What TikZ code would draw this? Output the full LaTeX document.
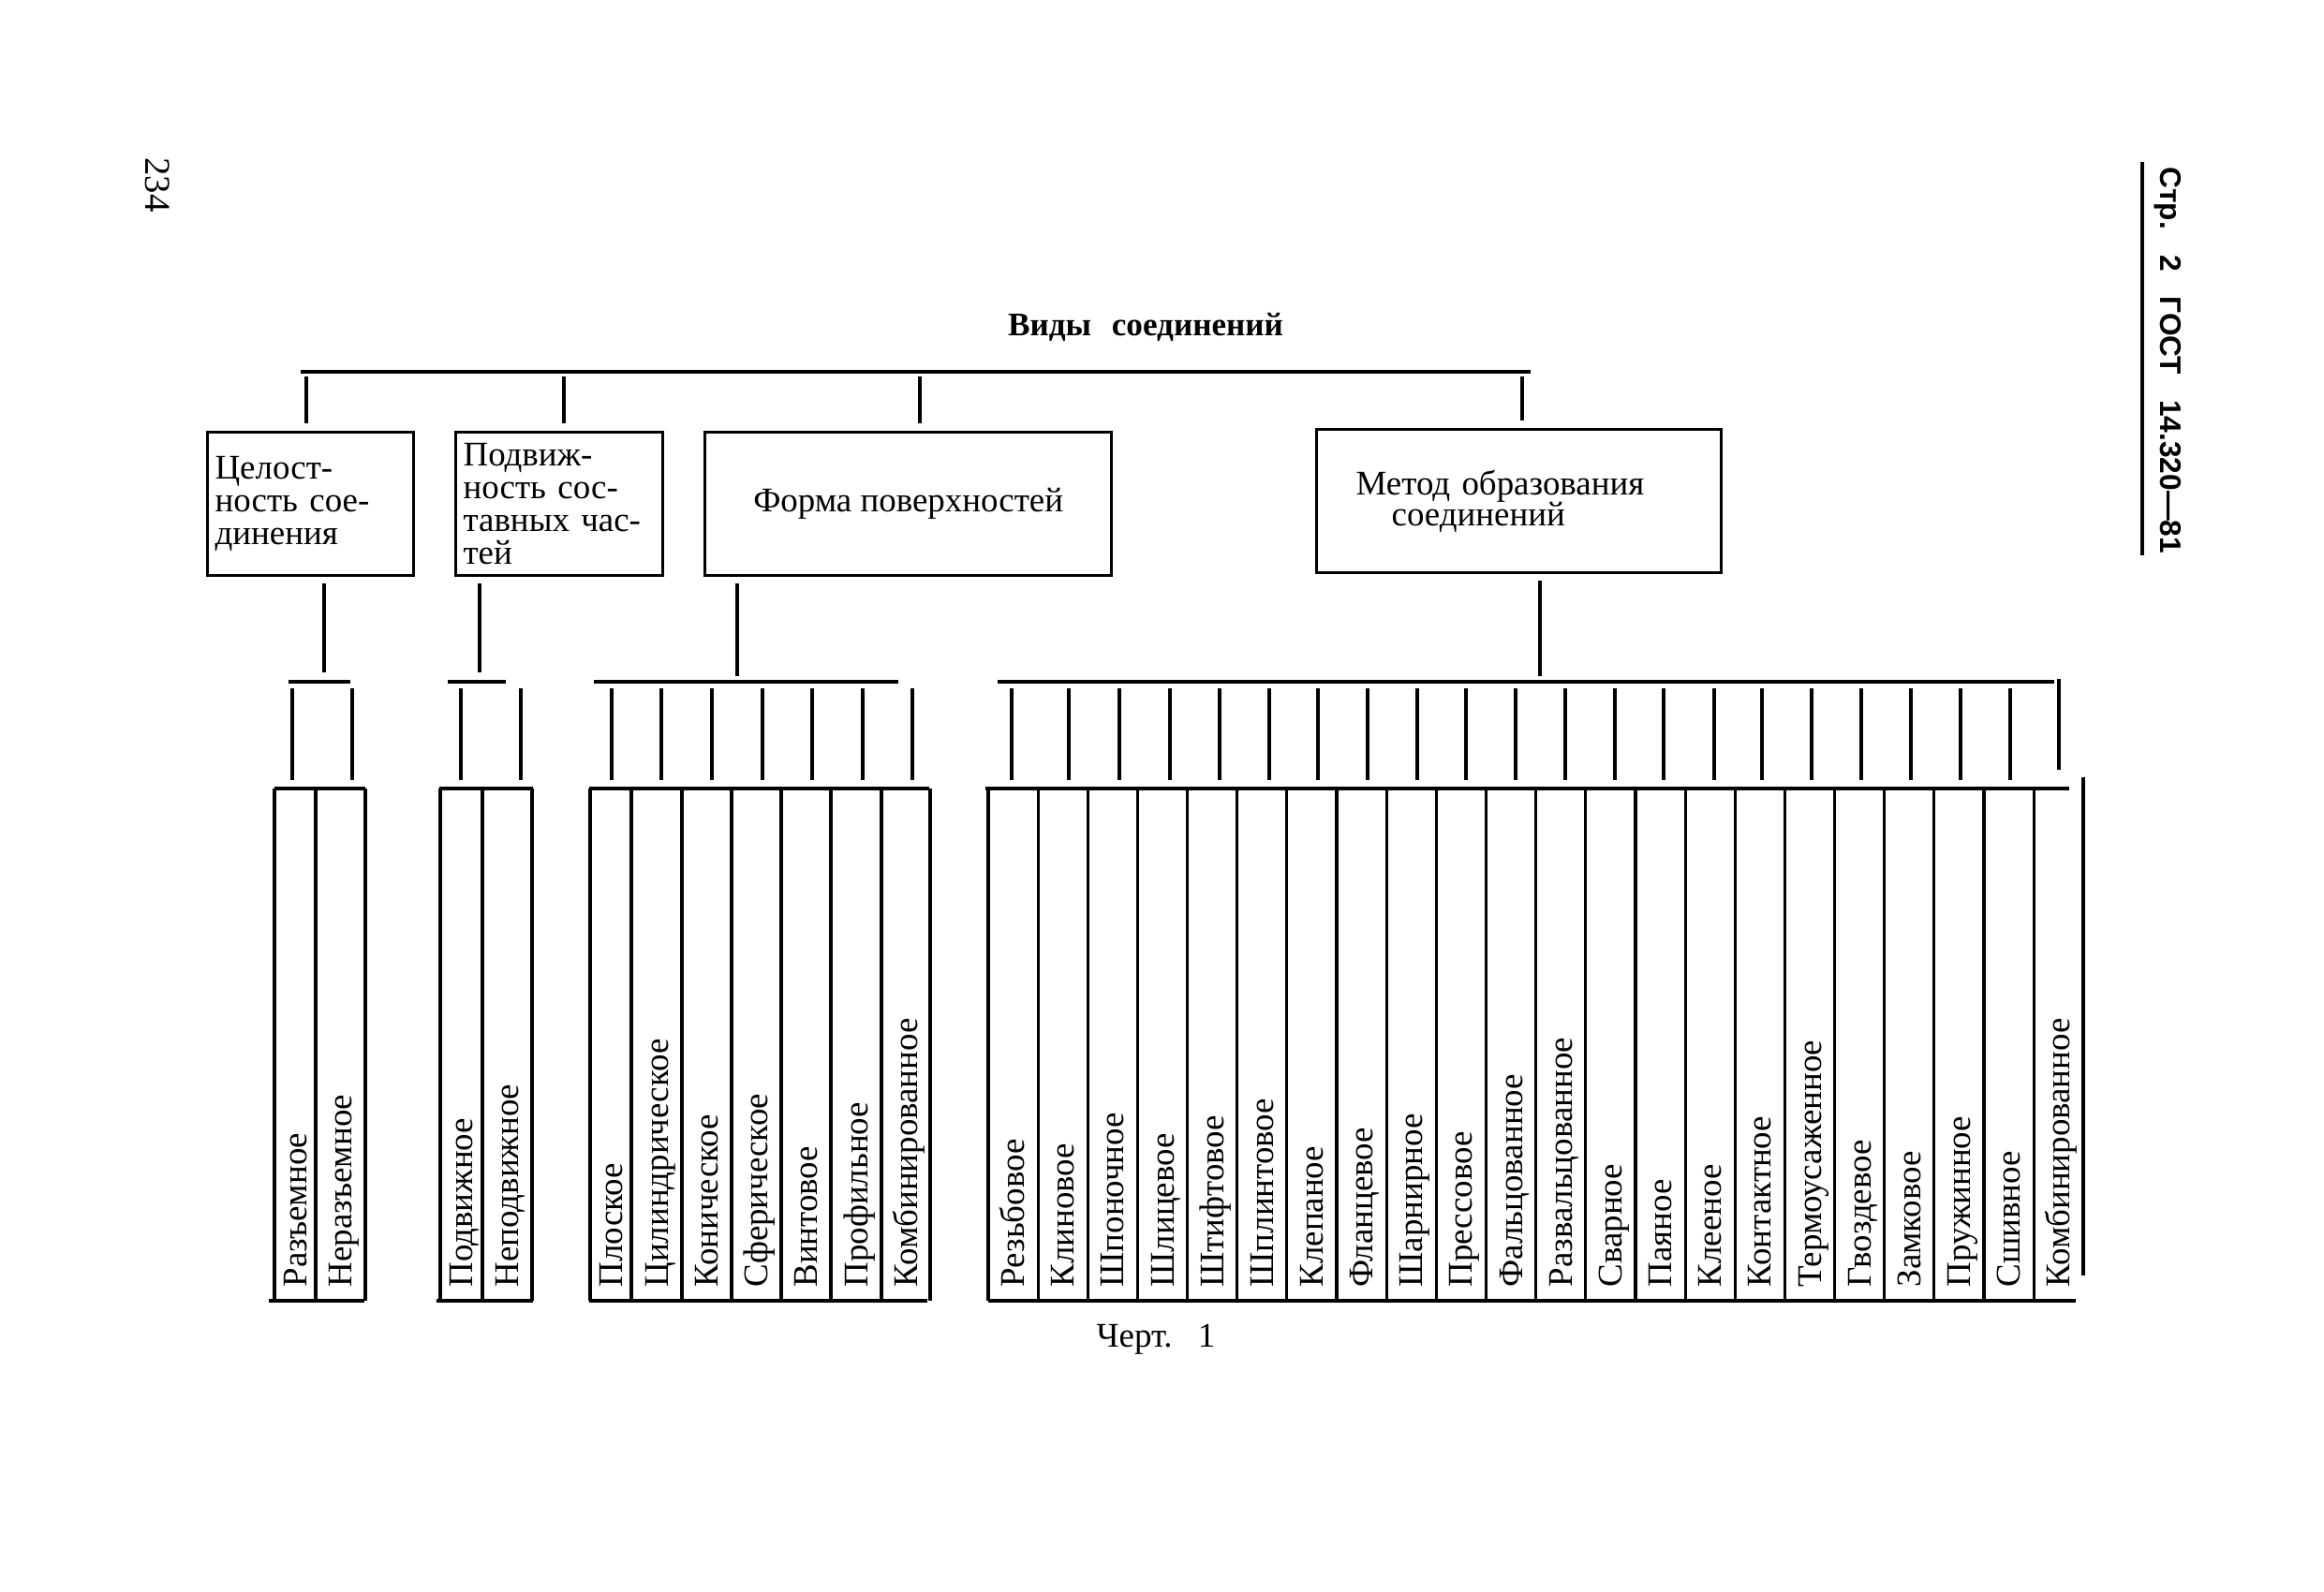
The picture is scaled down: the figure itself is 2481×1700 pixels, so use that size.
\documentclass[tikz,border=0pt]{standalone}
\usepackage{fontspec}
\setmainfont{Liberation Serif}
\newfontfamily\headfont{Liberation Sans}

\begin{document}
\begin{tikzpicture}[x=0.01cm, y=-0.01cm, line width=0.9pt,
  box/.style={draw, anchor=north west, inner ysep=0pt, minimum height=1.53cm,
    font=\fontsize{10.5}{10}\selectfont},
  leaf/.style={rotate=90, anchor=base west, inner sep=0pt,
    font=\fontsize{10.5}{12}\selectfont}]
  \useasboundingbox (0,0) rectangle (2481,1700);

  % Page number and header
  \node[rotate=-90, anchor=base west, inner sep=0pt, font=\fontsize{11}{13}\selectfont]
    (page) at (155,167) {234};
  \node[rotate=-90, anchor=base west, inner sep=0pt,
    font=\headfont\bfseries\fontsize{9}{11}\selectfont]
    (gost) at (2306,177) {Стр.\hspace{0.27cm}2\hspace{0.27cm}ГОСТ\hspace{0.27cm}14.320—81};
  \draw[line width=1.3pt] (2287,173) -- (2287,593);

  % Title
  \node[anchor=base, inner sep=0pt, font=\bfseries\fontsize{10}{12}\selectfont]
    (title) at (1223,358) {Виды\hspace{0.13cm} соединений};
  \draw (321,397) -- (1634,397);

  % Boxes
  \node[box, minimum width=2.2cm, inner xsep=0.08cm, text width=2.04cm, align=left]
    (b1) at (220,460) {Целост-\\ность сое-\\динения};
  \node[box, minimum width=2.21cm, inner xsep=0.08cm, text width=2.05cm, align=left]
    (b2) at (485,460) {Подвиж-\\ность сос-\\тавных час-\\тей};
  \node[box, minimum width=4.34cm, align=center]
    (b3) at (751,460) {Форма поверхностей};
  \node[box, minimum width=4.32cm, inner xsep=0.42cm, text width=3.48cm, align=left,
    font=\fontsize{10.5}{9.5}\selectfont]
    (b4) at (1404,457) {Метод образования\\\hspace*{0.38cm}соединений};

  % Title bar to boxes
  \foreach \x/\b in {327/b1, 602/b2, 982/b3, 1625/b4}
    \draw[shorten >=0.08cm] (\x,402) -- (\x,0 |- \b.north);
  % Boxes to group bars
  \foreach \x/\b/\y in {346/b1/718, 512/b2/718, 787/b3/722, 1644/b4/722}
    \draw[shorten <=0.07cm] (\x,0 |- \b.south) -- (\x,\y);

  % Group 1
  \draw (308,728) -- (374,728);
  \foreach \x in {312, 376} \draw (\x,735) -- (\x,833);
  \draw (293,842) -- (390,842);
  \draw (287,1389) -- (389,1389);
  \foreach \a/\b/\t [count=\i] in {293/337/Разъемное, 337/390/Неразъемное} {
    \draw (\a,842) -- (\a,1389);
    \node[leaf] (r\i) at ({(\a+\b)/2+12},1376) {\t};
  }
  \draw (390,842) -- (390,1389);

  % Group 2
  \draw (478,728) -- (540,728);
  \foreach \x in {492, 556} \draw (\x,735) -- (\x,833);
  \draw (469,842) -- (569,842);
  \draw (466,1389) -- (569,1389);
  \foreach \a/\b/\t [count=\i] in {470/515/Подвижное, 515/568/Неподвижное} {
    \draw (\a,842) -- (\a,1389);
    \node[leaf] (p\i) at ({(\a+\b)/2+12},1376) {\t};
  }
  \draw (568,842) -- (568,1389);

  % Group 3
  \draw (634,728) -- (959,728);
  \foreach \x in {653, 706, 760, 814, 867, 921, 974} \draw (\x,735) -- (\x,833);
  \draw (629,842) -- (992,842);
  \draw (629,1389) -- (990,1389);
  \foreach \a/\b/\t [count=\i] in {630/674/Плоское, 674/728/Цилиндрическое,
      728/781/Коническое, 781/834/Сферическое, 834/887/Винтовое,
      887/941/Профильное, 941/993/Комбинированное} {
    \draw (\a,842) -- (\a,1389);
    \node[leaf] (f\i) at ({(\a+\b)/2+12},1376) {\t};
  }
  \draw (993,842) -- (993,1389);

  % Group 4
  \draw (1065,728) -- (2193,728);
  \foreach \x in {1080, 1141, 1195, 1249, 1302, 1355, 1407, 1460, 1513, 1565, 1618,
      1671, 1724, 1776, 1830, 1881, 1934, 1987, 2040, 2093, 2146}
    \draw (\x,735) -- (\x,833);
  \draw[line width=1.2pt] (2198,725) -- (2198,822);
  \draw (1052,842) -- (2209,842);
  \draw (1055,1389) -- (2216,1389);
  \foreach \t [count=\i from 0] in {Резьбовое, Клиновое, Шпоночное, Шлицевое,
      Штифтовое, Шплинтовое, Клепаное, Фланцевое, Шарнирное, Прессовое,
      Фальцованное, Развальцованное, Сварное, Паяное, Клееное, Контактное,
      Термоусаженное, Гвоздевое, Замковое, Пружинное, Сшивное, Комбинированное} {
    \pgfmathsetmacro\lx{1055+53.15*\i}
    \draw (\lx,842) -- (\lx,1389);
    \node[leaf] (m\i) at (\lx+38.6,1376) {\t};
  }
  \draw[line width=1.2pt] (2224,830) -- (2224,1362);

  % Caption
  \node[anchor=base, inner sep=0pt, font=\fontsize{10.5}{12}\selectfont]
    (cap) at (1234,1438) {Черт.\hspace{0.15cm} 1};
\end{tikzpicture}
\end{document}
